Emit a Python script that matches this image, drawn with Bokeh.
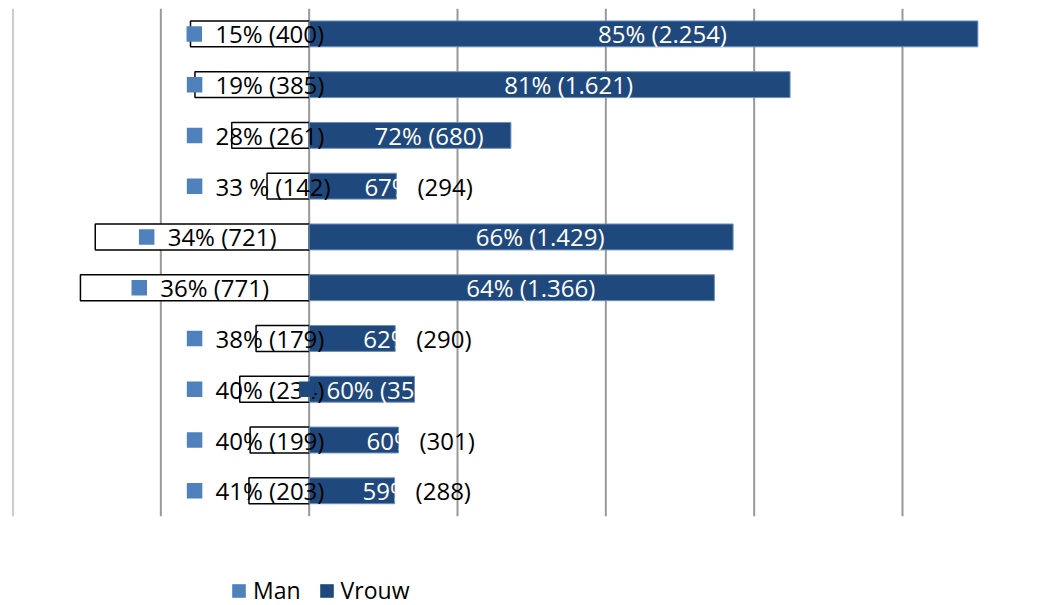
from bokeh.plotting import figure
from bokeh.models import Legend, LegendItem, Range1d
from bokeh.embed import file_html
from bokeh.resources import INLINE
from bokeh.core.properties import value

# ---- data ----
man_n = [400, 385, 261, 142, 721, 771, 179, 234, 199, 203]
vrouw_n = [2254, 1621, 680, 294, 1429, 1366, 290, 355, 301, 288]
man_pct = ["15%", "19%", "28%", "33 %", "34%", "36%", "38%", "40%", "40%", "41%"]
vrouw_pct = ["85%", "81%", "72%", "67%", "66%", "64%", "62%", "60%", "60%", "59%"]
grid_ticks = [-1000, -500, 0, 500, 1000, 1500, 2000]
series = ["Man", "Vrouw"]

MAN_KEY = "#4F81BD"
VROUW = "#1F497D"
FONT = value("Open Sans")
FS = "24px"


def fmt(n):
    return f"{n:,}".replace(",", ".")


W, H = 1049, 605
FL, FT = 12, 8
U = 3000 / 890.0  # data units per pixel
x_start = -1000
x_end = x_start + (W - FL) * U

rows = list(range(len(man_n)))
ys = [-k for k in rows]
y_top = ys[0] + 0.5
y_bot = ys[-1] - 0.5

p = figure(width=W, height=H, x_range=Range1d(x_start, x_end),
           y_range=Range1d(-11.26, 0.5), x_axis_type=None, y_axis_type=None,
           output_backend="svg", toolbar_location=None,
           min_border_left=FL, min_border_right=0, min_border_top=FT, min_border_bottom=0)
p.grid.visible = False
p.outline_line_color = None

# gridlines
p.segment(x0=grid_ticks, y0=[y_top] * len(grid_ticks), x1=grid_ticks, y1=[y_bot] * len(grid_ticks),
          line_color="#999999", line_width=2)

# bars
p.hbar(y=ys, left=[-v for v in man_n], right=0, height=0.51,
       fill_color="white", line_color="black", line_width=1.5)
p.hbar(y=ys, left=0, right=vrouw_n, height=0.51,
       fill_color=VROUW, line_color="#6d8fbf", line_width=1)

# Man labels
man_center = [min(-v / 2 + 15, -184) for v in man_n]
man_text = [f"{pc} ({fmt(n)})" for pc, n in zip(man_pct, man_n)]
p.scatter(x=[c - 60 * U for c in man_center], y=ys, marker="square", size=15.5,
          fill_color=MAN_KEY, line_color=None)
p.text(x=man_center, y=ys, text=man_text, x_offset=-39, text_align="left",
       text_baseline="middle", text_font=FONT, text_font_size=FS, text_color="black")

# Vrouw labels
split = [v < 320 for v in vrouw_n]
c_x, c_y, c_t = [], [], []
s_x, s_y, s_p, s_n = [], [], [], []
for v, pc, yy, sp in zip(vrouw_n, vrouw_pct, ys, split):
    if sp:
        s_x.append(v); s_y.append(yy); s_p.append(pc); s_n.append(f"({fmt(v)})")
    else:
        c_x.append(v / 2); c_y.append(yy); c_t.append(f"{pc} ({fmt(v)})")

p.text(x=c_x, y=c_y, text=c_t, x_offset=19, text_align="center", text_baseline="middle",
       text_font=FONT, text_font_size=FS, text_color="white")
p.scatter(x=[c - 55 * U for c in c_x], y=c_y, marker="square", size=15.5,
          fill_color=VROUW, line_color=None)
p.text(x=s_x, y=s_y, text=s_p, x_offset=-32, text_align="left", text_baseline="middle",
       text_font=FONT, text_font_size=FS, text_color="white")
p.text(x=s_x, y=s_y, text=s_n, x_offset=21, text_align="left", text_baseline="middle",
       text_font=FONT, text_font_size=FS, text_color="black")

# legend (zero-width key bars at the first row, used only for the legend swatches)
r_man = p.hbar(y=[ys[0]], left=[0], right=[0], height=0.5, fill_color=MAN_KEY, line_color=None)
r_vrouw = p.hbar(y=[ys[0]], left=[0], right=[0], height=0.5, fill_color=VROUW, line_color=None)
legend = Legend(items=[LegendItem(label=series[0], renderers=[r_man]),
                       LegendItem(label=series[1], renderers=[r_vrouw])],
                orientation="horizontal", location=(218, -1),
                glyph_width=17, glyph_height=17, label_standoff=6, spacing=17,
                padding=0, margin=0, border_line_color=None, background_fill_alpha=0,
                label_text_font="Open Sans", label_text_font_size="23px",
                label_text_color="black", label_text_line_height=0.9)
p.add_layout(legend)

open("out.html", "w").write(file_html(p, INLINE))
